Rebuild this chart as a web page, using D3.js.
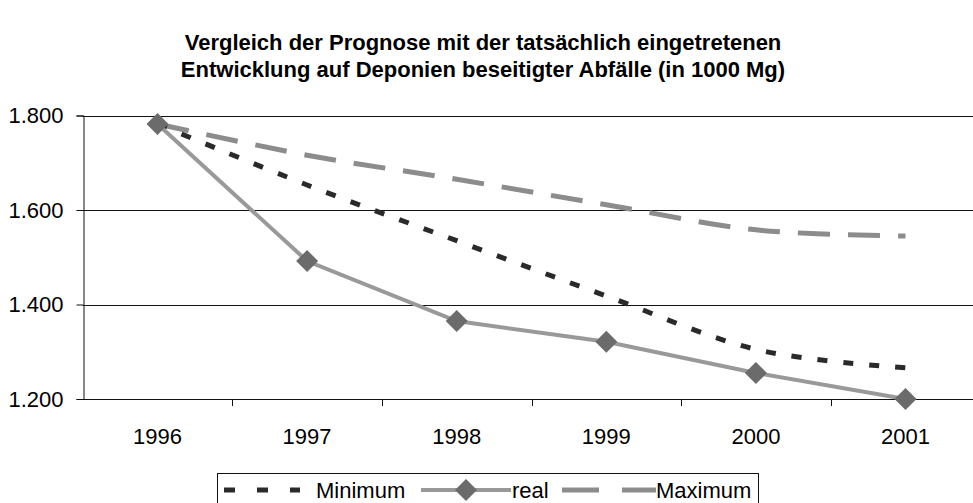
<!DOCTYPE html>
<html>
<head>
<meta charset="utf-8">
<script src="https://cdn.jsdelivr.net/npm/d3@7"></script>
<style>
  html, body { margin: 0; padding: 0; background: #fff; }
  svg { display: block; font-family: "Liberation Sans", Arial, sans-serif; }
</style>
</head>
<body>
<svg id="chart" width="973" height="503"></svg>
<script>
// Landfilled waste, forecast corridor vs. actual development (in 1000 Mg)
const years = ["1996", "1997", "1998", "1999", "2000", "2001"];
const minimum = [1782, 1653, 1535, 1418, 1305, 1266];
const real = [1782, 1492, 1365, 1321, 1255, 1200];
const maximum = [1782, 1716, 1665, 1611, 1558, 1545];
const yTicks = [1200, 1400, 1600, 1800];
const titleLines = [
  "Vergleich der Prognose mit der tatsächlich eingetretenen",
  "Entwicklung auf Deponien beseitigter Abfälle (in 1000 Mg)"
];

const svg = d3.select("#chart");
const W = 973;
const FONT = 22;
const plot = { left: 82.7, right: 980.3, top: 115.5, bottom: 399 };

const x = d3.scaleBand().domain(years).range([plot.left, plot.right]).padding(0);
const cx = d => x(d) + x.bandwidth() / 2;
const y = d3.scaleLinear().domain([1200, 1800]).range([plot.bottom, plot.top]);

const fmt = v => d3.format(",")(v).replace(",", ".");

// Title
svg.append("g").selectAll("text").data(titleLines).join("text")
  .attr("x", 483).attr("y", (d, i) => 50 + i * 27)
  .attr("text-anchor", "middle")
  .attr("font-weight", "bold").attr("font-size", FONT)
  .attr("fill", "#000")
  .text(d => d);

// Horizontal gridlines
svg.append("g").selectAll("line").data(yTicks).join("line")
  .attr("x1", plot.left).attr("x2", W)
  .attr("y1", d => Math.round(y(d)) + 0.5).attr("y2", d => Math.round(y(d)) + 0.5)
  .attr("stroke", "#111").attr("stroke-width", 1);

// Y axis
const yAxis = d3.axisLeft(y).tickValues(yTicks).tickSize(7).tickPadding(13).tickFormat(fmt);
svg.append("g").attr("transform", `translate(${Math.round(plot.left) + 0.5},0)`)
  .call(yAxis)
  .call(g => g.select(".domain").attr("stroke", "#111"))
  .call(g => g.selectAll(".tick line").attr("stroke", "#111"))
  .call(g => g.selectAll(".tick text").attr("font-size", FONT).attr("fill", "#000")
    .attr("font-family", "Liberation Sans, Arial, sans-serif"));

// X axis: ticks on category boundaries, labels at centres
const xg = svg.append("g");
xg.selectAll("line.tk").data(years.slice(1)).join("line")
  .attr("class", "tk")
  .attr("x1", d => Math.round(x(d)) + 0.5).attr("x2", d => Math.round(x(d)) + 0.5)
  .attr("y1", plot.bottom).attr("y2", plot.bottom + 7)
  .attr("stroke", "#111");
xg.selectAll("text").data(years).join("text")
  .attr("x", d => cx(d)).attr("y", plot.bottom + 45)
  .attr("text-anchor", "middle").attr("font-size", FONT).attr("fill", "#000")
  .text(d => d);

// Series
const smooth = d3.line().x((d, i) => cx(years[i])).y(d => y(d)).curve(d3.curveCatmullRom.alpha(0));
const straight = d3.line().x((d, i) => cx(years[i])).y(d => y(d));

svg.append("path").datum(maximum)
  .attr("d", smooth).attr("fill", "none")
  .attr("stroke", "#8c8c8c").attr("stroke-width", 5)
  .attr("stroke-dasharray", "32,18");

svg.append("path").datum(minimum)
  .attr("d", smooth).attr("fill", "none")
  .attr("stroke", "#2a2a2a").attr("stroke-width", 5)
  .attr("stroke-dasharray", "10,16");

svg.append("path").datum(real)
  .attr("d", straight).attr("fill", "none")
  .attr("stroke", "#999").attr("stroke-width", 4);

const diamond = (px, py, r) => `M${px},${py - r}L${px + r},${py}L${px},${py + r}L${px - r},${py}Z`;
svg.append("g").selectAll("path").data(real).join("path")
  .attr("d", (d, i) => diamond(cx(years[i]), y(d), 11))
  .attr("fill", "#6b6b6b");

// Legend
const lg = svg.append("g");
lg.append("rect").attr("x", 217.5).attr("y", 473.5).attr("width", 541).attr("height", 40)
  .attr("fill", "#fff").attr("stroke", "#111");
const ly = 490;
lg.append("line").attr("x1", 224).attr("x2", 300).attr("y1", ly).attr("y2", ly)
  .attr("stroke", "#2a2a2a").attr("stroke-width", 5).attr("stroke-dasharray", "11,22");
lg.append("text").attr("x", 316).attr("y", ly + 8).attr("font-size", FONT).text("Minimum");
lg.append("line").attr("x1", 421).attr("x2", 511).attr("y1", ly).attr("y2", ly)
  .attr("stroke", "#999").attr("stroke-width", 4);
lg.append("path").attr("d", diamond(466, ly, 11)).attr("fill", "#6b6b6b");
lg.append("text").attr("x", 512).attr("y", ly + 8).attr("font-size", FONT).text("real");
lg.append("line").attr("x1", 562).attr("x2", 656).attr("y1", ly).attr("y2", ly)
  .attr("stroke", "#8c8c8c").attr("stroke-width", 5).attr("stroke-dasharray", "37,23");
lg.append("text").attr("x", 656).attr("y", ly + 8).attr("font-size", FONT).text("Maximum");
</script>
</body>
</html>
